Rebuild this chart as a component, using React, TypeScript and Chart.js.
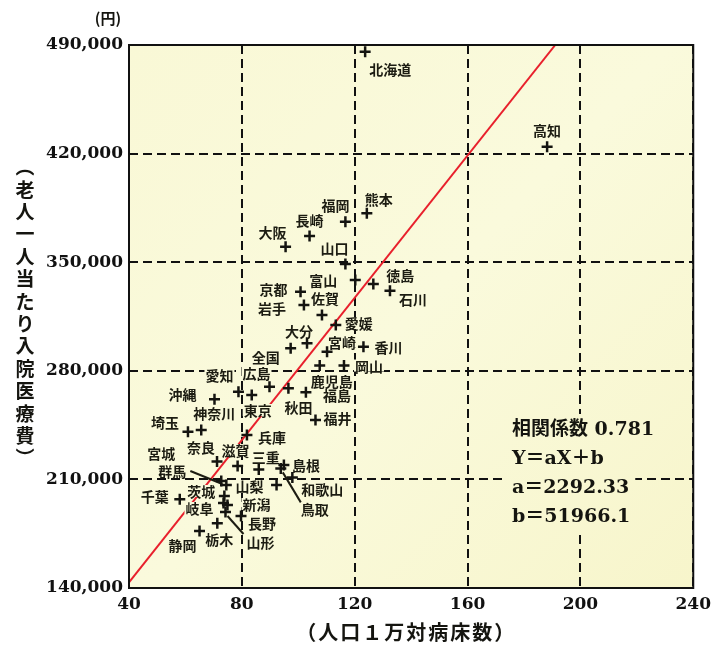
import React, { useEffect, useRef } from "react";
import { Chart, registerables } from "chart.js";
Chart.register(...registerables);

// ---- data ----
const prefectures = [
  "北海道", "高知", "熊本", "福岡", "長崎", "大阪", "山口", "富山", "徳島", "石川",
  "京都", "岩手", "佐賀", "愛媛", "大分", "全国", "宮崎", "香川", "鹿児島", "岡山",
  "広島", "愛知", "秋田", "福島", "福井", "東京", "沖縄", "神奈川", "埼玉", "兵庫",
  "奈良", "滋賀", "三重", "宮城", "群馬", "千葉", "茨城", "岐阜", "山形", "長野",
  "栃木", "静岡", "山梨", "新潟", "鳥取", "島根", "和歌山",
];
const bedsPer10k = [
  123.7, 188.2, 124.3, 116.7, 104.0, 95.5, 116.7, 120.2, 126.6, 132.5,
  100.8, 102.0, 108.4, 113.3, 103.1, 97.3, 110.2, 123.1, 107.6, 116.2,
  89.8, 78.8, 96.5, 102.7, 106.1, 83.5, 70.3, 65.6, 60.9, 81.8,
  71.2, 78.5, 86.0, 72.7, 74.5, 58.0, 73.8, 73.5, 74.2, 79.7,
  71.3, 65.0, 92.3, 74.9, 93.8, 94.9, 97.9,
];
const costPerElderly = [
  485700, 424400, 381500, 376100, 366900, 360000, 348800, 338500, 335900, 331600,
  331000, 322400, 316000, 309500, 297700, 294500, 292300, 295500, 283400, 283400,
  269700, 266500, 268700, 266100, 248300, 264400, 261600, 241800, 240700, 238600,
  221500, 218600, 216400, 208900, 206400, 197200, 199300, 194800, 189000, 186400,
  181700, 176700, 206400, 193500, 217100, 219300, 211300,
];
const xTickValues = [40, 80, 120, 160, 200, 240];
const yTickValues = [140000, 210000, 280000, 350000, 420000, 490000];
const correlationText = "0.781";
const slopeA = 2292.33;
const interceptB = 51966.1;
const lineStartX = 40;
const yMax = 490000;

// ---- label layout (pixel offsets from each point) ----
const labelOffsets: Record<string, [number, number]> = {
  北海道: [25, 17], 高知: [0, -17], 熊本: [12, -15], 福岡: [-10, -17], 長崎: [0, -16],
  大阪: [-13, -15], 山口: [-11, -16], 富山: [-32, 0], 徳島: [27, -9], 石川: [23, 8],
  京都: [-27, -3], 岩手: [-32, 3], 佐賀: [3, -17], 愛媛: [23, -2], 大分: [-8, -13],
  全国: [-25, 8], 宮崎: [15, -10], 香川: [25, 0], 鹿児島: [12, 15], 岡山: [25, 0],
  広島: [-13, -14], 愛知: [-19, -17], 秋田: [10, 18], 福島: [31, 2], 福井: [22, -2],
  東京: [6, 15], 沖縄: [-32, -6], 神奈川: [13, -17], 埼玉: [-23, -10], 兵庫: [25, 2],
  奈良: [-16, -15], 滋賀: [-2, -16], 三重: [7, -13], 宮城: [-60, -28], 群馬: [-54, -14],
  千葉: [-25, -4], 茨城: [-23, -5], 岐阜: [-24, 5], 山形: [35, 30], 長野: [21, 7],
  栃木: [2, 15], 静岡: [-17, 14], 山梨: [-27, 1], 新潟: [29, -1], 鳥取: [34, 40],
  島根: [22, 0], 和歌山: [30, 11],
};
const leaders: Record<string, [number, number, number, number]> = {
  群馬: [-4, -1, -36, -14],
  山形: [2, 4, 18, 22],
  鳥取: [2, 4, 20, 34],
};

const CJK = "'Noto Sans CJK JP', sans-serif";
const SERIF = "'DejaVu Serif', 'Noto Sans CJK JP', serif";

function plotFill(ctx: CanvasRenderingContext2D, a: any) {
  const g = ctx.createLinearGradient(a.left, a.top, a.right, a.bottom);
  g.addColorStop(0, "#f9f8d6");
  g.addColorStop(0.5, "#fafadc");
  g.addColorStop(1, "#f7f5cb");
  return g;
}

export default function App() {
  const ref = useRef<HTMLCanvasElement>(null);
  useEffect(() => {
    document.body.style.margin = "0";
    const canvas = ref.current!;
    const lineEndX = (yMax - interceptB) / slopeA;

    const bgPlugin = {
      id: "bgPlugin",
      beforeDraw(chart: any) {
        const { ctx, chartArea: a } = chart;
        ctx.save();
        ctx.fillStyle = "#ffffff";
        ctx.fillRect(0, 0, chart.width, chart.height);
        ctx.fillStyle = plotFill(ctx, a);
        ctx.fillRect(a.left, a.top, a.right - a.left, a.bottom - a.top);
        ctx.restore();
      },
    };

    const labelPlugin = {
      id: "labelPlugin",
      afterDatasetDraw(chart: any, args: any) {
        if (args.index !== 1) return;
        const { ctx, chartArea: a } = chart;
        const xs = chart.scales.x;
        const ys = chart.scales.y;
        const fill = plotFill(ctx, a);
        ctx.save();
        ctx.font = `bold 14px ${CJK}`;
        ctx.textAlign = "center";
        ctx.textBaseline = "middle";
        const placed = prefectures.map((name, i) => {
          const px = xs.getPixelForValue(bedsPer10k[i]);
          const py = ys.getPixelForValue(costPerElderly[i]);
          const off = labelOffsets[name] || [0, -15];
          return { name, px, py, lx: px + off[0], ly: py + off[1] };
        });
        // knock-outs first
        placed.forEach((p) => {
          const w = ctx.measureText(p.name).width;
          ctx.fillStyle = fill;
          ctx.fillRect(p.lx - w / 2 - 1, p.ly - 6, w + 2, 12);
        });
        placed.forEach((p) => {
          ctx.fillStyle = "#1c1c12";
          ctx.fillText(p.name, p.lx, p.ly + 1);
          const ld = leaders[p.name];
          if (ld) {
            ctx.strokeStyle = "#1c1c12";
            ctx.lineWidth = 2;
            ctx.beginPath();
            ctx.moveTo(p.px + ld[0], p.py + ld[1]);
            ctx.lineTo(p.px + ld[2], p.py + ld[3]);
            ctx.stroke();
          }
        });
        const lines = [
          `相関係数 ${correlationText}`,
          "Y＝aX＋b",
          `a＝${slopeA}`,
          `b＝${interceptB}`,
        ];
        ctx.font = `bold 19px ${SERIF}`;
        ctx.textAlign = "left";
        const sx = a.left + 383;
        lines.forEach((t, i) => {
          const sy = a.top + 384 + i * 29;
          const w = ctx.measureText(t).width;
          ctx.fillStyle = fill;
          ctx.fillRect(sx - 6, sy - 15, w + 12, 30);
        });
        lines.forEach((t, i) => {
          const sy = a.top + 384 + i * 29;
          ctx.fillStyle = "#151510";
          ctx.fillText(t, sx, sy + 1);
        });
        ctx.restore();
      },
      afterDraw(chart: any) {
        const { ctx, chartArea: a } = chart;
        ctx.save();
        ctx.strokeStyle = "#111";
        ctx.lineWidth = 2;
        ctx.setLineDash([]);
        ctx.strokeRect(a.left, a.top, a.right - a.left, a.bottom - a.top);
        ctx.fillStyle = "#151510";
        ctx.font = `bold 15px ${CJK}`;
        ctx.textAlign = "center";
        ctx.textBaseline = "middle";
        ctx.fillText("(円)", 108, 18);
        ctx.font = `bold 20px ${CJK}`;
        (ctx as any).letterSpacing = "2px";
        ctx.fillText("（人口１万対病床数）", (a.left + a.right) / 2 - 5, 632);
        (ctx as any).letterSpacing = "0px";
        const chars = ["︵", "老", "人", "一", "人", "当", "た", "り", "入", "院", "医", "療", "費", "︶"];
        ctx.font = `bold 19px ${CJK}`;
        chars.forEach((c, i) => {
          ctx.fillText(c, 25, 167 + i * 22.4);
        });
        ctx.restore();
      },
    };

    const chart = new Chart(canvas, {
      type: "scatter",
      data: {
        datasets: [
          {
            label: "都道府県",
            data: prefectures.map((_, i) => ({ x: bedsPer10k[i], y: costPerElderly[i] })),
            pointStyle: "cross",
            pointRadius: 5.5,
            pointBorderWidth: 2.5,
            borderColor: "#141410",
            backgroundColor: "#141410",
            order: 0,
          } as any,
          {
            type: "line",
            label: "回帰直線",
            data: [
              { x: lineStartX, y: slopeA * lineStartX + interceptB },
              { x: lineEndX, y: slopeA * lineEndX + interceptB },
            ],
            borderColor: "#e8202c",
            borderWidth: 2,
            pointRadius: 0,
            showLine: true,
            fill: false,
            order: 1,
          } as any,
        ],
      },
      options: {
        responsive: false,
        animation: false,
        events: [],
        layout: { padding: { top: 45, right: 20, bottom: 0, left: 0 } },
        plugins: { legend: { display: false }, tooltip: { enabled: false } },
        scales: {
          x: {
            type: "linear",
            min: 40,
            max: 240,
            afterBuildTicks: (s: any) => {
              s.ticks = xTickValues.map((v) => ({ value: v }));
            },
            afterFit: (s: any) => {
              s.height = 62;
            },
            grid: { color: "#111", lineWidth: 2, drawTicks: false },
            border: { display: false, dash: [9, 5] },
            ticks: {
              color: "#111",
              padding: 6,
              font: { family: SERIF, size: 17, weight: "bold" },
              callback: (v: any) => String(v),
            },
          },
          y: {
            type: "linear",
            min: 140000,
            max: 490000,
            afterBuildTicks: (s: any) => {
              s.ticks = yTickValues.map((v) => ({ value: v }));
            },
            afterFit: (s: any) => {
              s.width = 129;
            },
            grid: { color: "#111", lineWidth: 2, drawTicks: false },
            border: { display: false, dash: [9, 5] },
            ticks: {
              color: "#111",
              padding: 6,
              labelOffset: 0,
              font: { family: SERIF, size: 17, weight: "bold" },
              callback: (v: any) => Number(v).toLocaleString("en-US"),
            },
          },
        },
      } as any,
      plugins: [bgPlugin, labelPlugin],
    });
    return () => chart.destroy();
  }, []);
  return <canvas ref={ref} width={717} height={650} style={{ display: "block" }} />;
}
